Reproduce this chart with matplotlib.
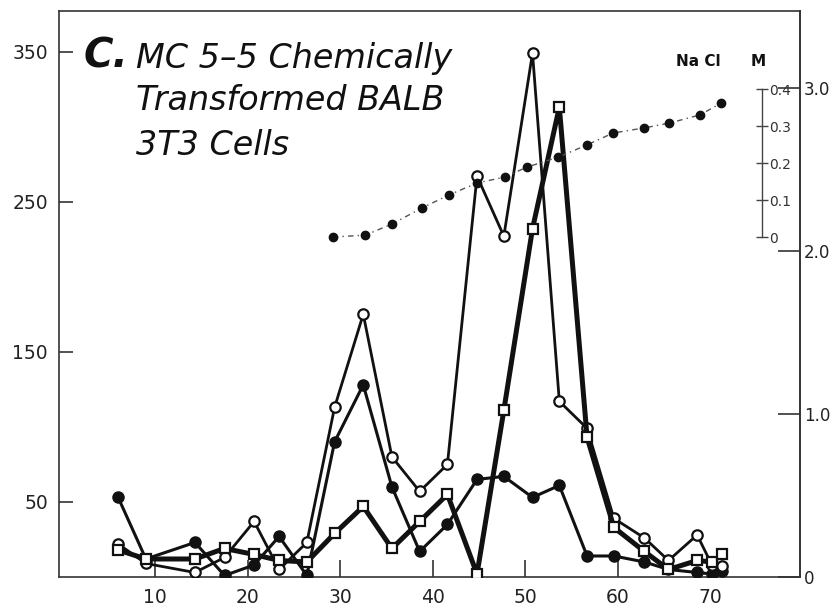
import matplotlib
matplotlib.use("Agg")
import matplotlib.pyplot as plt

# ---- data ----
fraction = [6, 9, 14.3, 17.5, 20.7, 23.4, 26.4, 29.4, 32.5, 35.6, 38.6, 41.6,
            44.8, 47.7, 50.8, 53.7, 56.7, 59.6, 62.9, 65.5, 68.6, 70.2, 71.3]
open_circles = [22, 9, 3, 13, 37, 5, 23, 113, 175, 80, 57, 75,
                267, 227, 349, 117, 99, 39, 26, 11, 28, 8, 7]
filled_circles = [53, 12, 23, 1, 8, 27, 1, 90, 128, 60, 17, 35,
                  65, 67, 53, 61, 14, 14, 10, 5, 3, 2, 4]
open_squares = [18, 12, 12, 19, 15, 11, 10, 29, 47, 19, 37, 55,
                2, 111, 232, 313, 93, 33, 17, 5, 11, 10, 15]

nacl_fraction = [29.2, 32.7, 35.6, 38.8, 41.8, 44.8, 47.8, 50.2, 53.6, 56.7,
                 59.5, 62.9, 65.6, 68.9, 71.2]
nacl_M = [0.0, 0.005, 0.035, 0.078, 0.114, 0.146, 0.162, 0.189, 0.216, 0.249,
          0.281, 0.295, 0.308, 0.33, 0.362]

left_ticks = [50, 150, 250, 350]
bottom_ticks = [10, 20, 30, 40, 50, 60, 70]
right_ticks = [0, 1.0, 2.0, 3.0]
right_labels = ["0", "1.0", "2.0", "3.0"]
nacl_ticks = [0, 0.1, 0.2, 0.3, 0.4]
nacl_labels = ["0", "0.1", "0.2", "0.3", "0.4"]

fig = plt.figure(figsize=(8.34, 6.10), dpi=100)
ax = fig.add_axes([0.0707, 0.0541, 0.959 - 0.0707, 0.982 - 0.0541])
ax.set_xlim(-0.4, 79.7)
ax.set_ylim(0, 377)

ink = "#111111"
ax.plot(fraction, filled_circles, color=ink, lw=2.2, marker="o", ms=8,
        mfc=ink, mec=ink, zorder=3)
ax.plot(fraction, open_circles, color=ink, lw=2.0, marker="o", ms=7.5,
        mfc="white", mec=ink, mew=1.6, zorder=4)
ax.plot(fraction, open_squares, color=ink, lw=3.6, marker="s", ms=7.5,
        mfc="white", mec=ink, mew=1.6, zorder=5)

for s in ["left", "bottom", "top", "right"]:
    ax.spines[s].set_color("#333333")
    ax.spines[s].set_linewidth(1.2)

ax.set_yticks(left_ticks)
ax.set_yticklabels([str(v) for v in left_ticks])
ax.set_xticks(bottom_ticks)
ax.set_xticklabels([str(v) for v in bottom_ticks])
ax.tick_params(axis="y", direction="in", length=10, width=1.2, pad=8,
               labelsize=13.5, colors="#333333", labelcolor="#222222")
ax.tick_params(axis="x", direction="in", length=12, width=1.2, pad=8,
               labelsize=13.5, colors="#333333", labelcolor="#222222")

# right axis (0 - 3.0)
axr = ax.twinx()
axr.set_ylim(0, 3.47)
axr.set_yticks(right_ticks)
axr.set_yticklabels(right_labels)
axr.tick_params(axis="y", direction="in", length=16, width=1.2, pad=3,
                labelsize=12, colors="#333333", labelcolor="#222222")
for s in axr.spines.values():
    s.set_visible(False)
axr.spines["right"].set_visible(True)
axr.spines["right"].set_color("#333333")
axr.spines["right"].set_linewidth(1.2)

# inner NaCl axis
axn = ax.twinx()
axn.set_ylim(-0.919, 0.611)
for s in axn.spines.values():
    s.set_visible(False)
axn.spines["right"].set_visible(True)
axn.spines["right"].set_position(("axes", 0.949))
axn.spines["right"].set_bounds(0, 0.4)
axn.spines["right"].set_color("#444444")
axn.spines["right"].set_linewidth(1.0)
axn.set_yticks(nacl_ticks)
axn.set_yticklabels(nacl_labels)
axn.tick_params(axis="y", direction="inout", length=8, width=1.0, pad=1,
                labelsize=10, colors="#444444", labelcolor="#333333")
axn.plot(nacl_fraction, nacl_M, color="#555555", lw=1.0, ls=(0, (4, 3, 1, 3)),
         marker="o", ms=6, mfc=ink, mec=ink, zorder=2)

# labels / title
fig.text(676 / 834, 1 - 61 / 610, "Na Cl", fontsize=11, fontweight="bold",
         ha="left", va="center", color=ink)
fig.text(758 / 834, 1 - 61 / 610, "M", fontsize=11, fontweight="bold",
         ha="center", va="center", color=ink)

fig.text(84 / 834, 1 - 68 / 610, "C.", fontsize=29, fontweight="bold",
         fontstyle="italic", ha="left", va="baseline", color=ink)
for txt, yb in [("MC 5\u20135 Chemically", 68),
                ("Transformed BALB", 110),
                ("3T3 Cells", 155)]:
    fig.text(136 / 834, 1 - yb / 610, txt, fontsize=24, fontstyle="italic",
             ha="left", va="baseline", color=ink)

fig.savefig("out.png", dpi=100)
